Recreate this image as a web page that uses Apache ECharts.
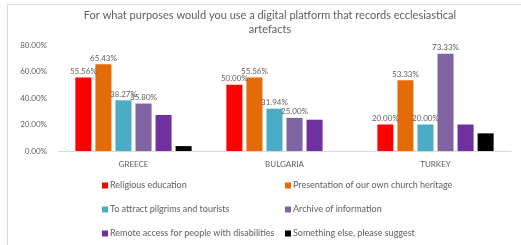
<!DOCTYPE html>
<html>
<head>
<meta charset="utf-8">
<script src="https://cdn.jsdelivr.net/npm/echarts@6/dist/echarts.min.js"></script>
<style>
html,body{margin:0;padding:0;background:#fff;}
#main{width:521px;height:245px;}
</style>
</head>
<body>
<div id="main"></div>
<script>
var countries = ['GREECE', 'BULGARIA', 'TURKEY'];
var seriesNames = ['Religious education', 'Presentation of our own church heritage',
	'To attract pilgrims and tourists', 'Archive of information',
	'Remote access for people with disabilities', 'Something else, please suggest'];
var religious = [55.56, 50.00, 20.00];
var heritage = [65.43, 55.56, 53.33];
var pilgrims = [38.27, 31.94, 20.00];
var archive = [35.80, 25.00, 73.33];
var remote = [27.16, 23.61, 20.00];
var other = [3.70, 0, 13.33];
var colors = ['#ff0000', '#e36c09', '#4bacc6', '#8064a2', '#7030a0', '#000000'];
var yTicks = [0, 20, 40, 60, 80];

var allData = [religious, heritage, pilgrims, archive, remote, other];
var font = 'Lato';
var txt = '#606060';

var series = [];
for (var i = 0; i < allData.length; i++) {
	series.push({
		name: seriesNames[i],
		type: 'bar',
		data: allData[i],
		barGap: '25%',
		barCategoryGap: '23%',
		itemStyle: { color: colors[i] },
		label: {
			show: i < 4,  // only the first four series carry labels
			position: 'top',
			distance: 2,
			fontSize: 8,
			fontFamily: font,
			color: txt,
			formatter: function (p) { return p.value.toFixed(2) + '%'; }
		}
	});
}

// one legend per entry so they sit in two columns, three rows
var legends = [];
var legLeft = [102, 285];
var legTop = [181, 205, 229];
for (var j = 0; j < seriesNames.length; j++) {
	legends.push({
		left: legLeft[j % 2],
		top: legTop[Math.floor(j / 2)],
		padding: 0,
		itemWidth: 6,
		itemHeight: 6,
		icon: 'rect',
		data: [seriesNames[j]],
		textStyle: { fontSize: 9, color: txt, fontFamily: font, padding: [0, 0, 0, -3] }
	});
}

var myChart = echarts.init(document.getElementById('main'));
var option = {
	animation: false,
	textStyle: { fontFamily: font },
	title: {
		text: 'For what purposes would you use a digital platform that records ecclesiastical\nartefacts',
		left: 265,
		textAlign: 'center',
		top: 3,
		textStyle: { fontSize: 11, fontWeight: 'normal', color: txt, fontFamily: font, lineHeight: 14 }
	},
	graphic: [{
		type: 'rect',
		shape: { x: 7.5, y: 4.5, width: 520, height: 250 },
		style: { fill: 'none', stroke: '#d9d9d9', lineWidth: 1 },
		silent: true
	}],
	legend: legends,
	grid: { left: 58, right: 10, top: 45, bottom: 94 },
	xAxis: {
		type: 'category',
		data: countries,
		axisLine: { lineStyle: { color: '#d9d9d9' } },
		axisTick: { show: false },
		axisLabel: { fontSize: 8, color: txt, margin: 9 }
	},
	yAxis: {
		type: 'value',
		min: yTicks[0],
		max: yTicks[yTicks.length - 1],
		interval: 20,
		splitLine: { show: false },
		axisLine: { show: false },
		axisTick: { show: false },
		axisLabel: { fontSize: 8, color: txt, margin: 11, formatter: function (v) { return v.toFixed(2) + '%'; } }
	},
	series: series
};
myChart.setOption(option);
</script>
</body>
</html>
